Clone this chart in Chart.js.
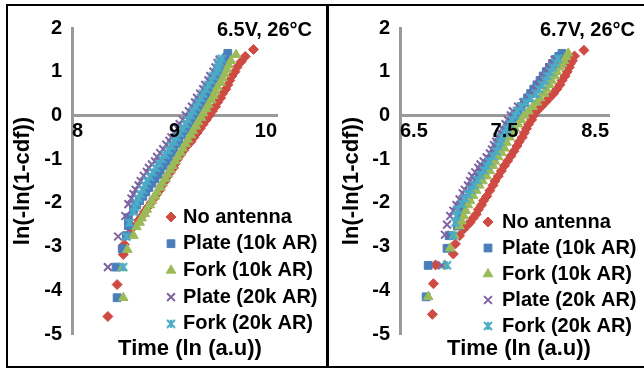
<!DOCTYPE html>
<html>
<head>
<meta charset="utf-8">
<script src="https://cdn.jsdelivr.net/npm/chart.js"></script>
<style>
  html, body { margin: 0; padding: 0; background: #fff; }
  body { width: 644px; height: 368px; position: relative; overflow: hidden; }
  .panel { position: absolute; top: 4px; height: 360px; border-top: 2px solid #000; border-bottom: 2px solid #000; }
  #p1 { left: 6px; width: 318px; border-left: 2px solid #000; border-right: 3px solid #000; }
  #p2 { left: 329px; width: 315px; }
  canvas { display: block; }
</style>
</head>
<body>
<div class="panel" id="p1"><canvas id="chart-1" width="318" height="360"></canvas></div>
<div class="panel" id="p2"><canvas id="chart-2" width="315" height="360"></canvas></div>
<script>
const seriesNames = ['No antenna', 'Plate (10k AR)', 'Fork (10k AR)', 'Plate (20k AR)', 'Fork (20k AR)'];
const yTicks = { min: -5, max: 2, step: 1 };

// 6.5V, 26°C
const noAnt65Y = [-4.6, -3.87, -3.18, -2.95, -2.7, -2.55, -2.4, -2.3, -2.2, -2.1, -2.0, -1.9, -1.8, -1.7, -1.6, -1.5, -1.4, -1.3, -1.2, -1.1, -1.0, -0.9, -0.8, -0.7, -0.6, -0.5, -0.4, -0.3, -0.2, -0.1, 0.0, 0.1, 0.2, 0.3, 0.4, 0.5, 0.6, 0.7, 0.8, 0.9, 1.0, 1.1, 1.23, 1.35, 1.51];
const noAnt65X = [8.35, 8.44, 8.50, 8.51, 8.56, 8.60, 8.65, 8.68, 8.71, 8.74, 8.77, 8.80, 8.83, 8.86, 8.88, 8.91, 8.93, 8.96, 8.99, 9.01, 9.03, 9.06, 9.09, 9.12, 9.16, 9.19, 9.22, 9.25, 9.28, 9.31, 9.34, 9.37, 9.40, 9.42, 9.45, 9.47, 9.50, 9.52, 9.54, 9.56, 9.59, 9.61, 9.65, 9.69, 9.77];
const plate10k65Y = [-4.17, -3.47, -3.05, -2.75, -2.52, -2.34, -2.15, -2.05, -1.95, -1.85, -1.75, -1.65, -1.55, -1.45, -1.35, -1.25, -1.15, -1.05, -0.95, -0.85, -0.75, -0.65, -0.55, -0.45, -0.35, -0.25, -0.15, -0.05, 0.05, 0.15, 0.25, 0.35, 0.45, 0.55, 0.65, 0.75, 0.85, 0.95, 1.05, 1.15, 1.25, 1.33, 1.42];
const plate10k65X = [8.44, 8.43, 8.49, 8.53, 8.55, 8.55, 8.60, 8.63, 8.66, 8.69, 8.72, 8.75, 8.78, 8.81, 8.84, 8.86, 8.89, 8.92, 8.94, 8.97, 8.99, 9.02, 9.04, 9.07, 9.10, 9.13, 9.16, 9.19, 9.22, 9.24, 9.27, 9.30, 9.32, 9.35, 9.37, 9.40, 9.42, 9.44, 9.46, 9.48, 9.50, 9.51, 9.52];
const fork10k65Y = [-4.17, -3.49, -3.07, -2.75, -2.55, -2.45, -2.35, -2.25, -2.15, -2.05, -1.95, -1.85, -1.75, -1.65, -1.55, -1.45, -1.35, -1.25, -1.15, -1.05, -0.95, -0.85, -0.75, -0.65, -0.55, -0.45, -0.35, -0.25, -0.15, -0.05, 0.05, 0.15, 0.25, 0.35, 0.45, 0.55, 0.65, 0.75, 0.85, 0.95, 1.05, 1.15, 1.25, 1.39];
const fork10k65X = [8.50, 8.49, 8.54, 8.60, 8.63, 8.66, 8.68, 8.71, 8.73, 8.76, 8.78, 8.81, 8.83, 8.86, 8.88, 8.91, 8.93, 8.96, 8.98, 9.01, 9.03, 9.06, 9.08, 9.11, 9.13, 9.16, 9.18, 9.21, 9.23, 9.26, 9.28, 9.31, 9.33, 9.36, 9.38, 9.40, 9.42, 9.45, 9.47, 9.49, 9.51, 9.53, 9.55, 9.60];
const plate20k65Y = [-3.47, -2.77, -2.30, -2.03, -1.9, -1.80, -1.7, -1.60, -1.5, -1.38, -1.29, -1.20, -1.12, -1.05, -0.95, -0.86, -0.77, -0.67, -0.58, -0.5, -0.4, -0.3, -0.2, -0.1, 0.0, 0.1, 0.2, 0.3, 0.4, 0.5, 0.6, 0.7, 0.8, 0.9, 1.0, 1.1, 1.2, 1.28];
const plate20k65X = [8.35, 8.45, 8.52, 8.55, 8.58, 8.60, 8.62, 8.65, 8.67, 8.70, 8.73, 8.75, 8.78, 8.81, 8.83, 8.86, 8.89, 8.92, 8.95, 8.97, 9.00, 9.03, 9.05, 9.08, 9.11, 9.14, 9.17, 9.20, 9.22, 9.25, 9.28, 9.30, 9.33, 9.35, 9.38, 9.40, 9.42, 9.44];
const fork20k65Y = [-3.47, -2.77, -2.45, -2.2, -2.1, -2.0, -1.9, -1.8, -1.7, -1.6, -1.5, -1.4, -1.3, -1.2, -1.1, -1.0, -0.9, -0.8, -0.7, -0.6, -0.5, -0.4, -0.3, -0.2, -0.1, 0.0, 0.1, 0.2, 0.3, 0.4, 0.5, 0.6, 0.7, 0.8, 0.9, 1.0, 1.08, 1.15, 1.22, 1.3];
const fork20k65X = [8.50, 8.53, 8.56, 8.60, 8.61, 8.63, 8.65, 8.67, 8.69, 8.71, 8.73, 8.76, 8.79, 8.82, 8.85, 8.88, 8.91, 8.94, 8.97, 9.00, 9.02, 9.05, 9.08, 9.11, 9.13, 9.16, 9.18, 9.21, 9.23, 9.26, 9.28, 9.31, 9.33, 9.36, 9.38, 9.41, 9.42, 9.43, 9.44, 9.46];

// 6.7V, 26°C
const noAnt67Y = [-4.55, -3.85, -3.42, -3.17, -2.94, -2.75, -2.6, -2.52, -2.45, -2.35, -2.26, -2.15, -2.05, -1.95, -1.85, -1.72, -1.6, -1.5, -1.39, -1.27, -1.15, -1.04, -0.93, -0.82, -0.7, -0.6, -0.5, -0.4, -0.3, -0.2, -0.1, 0.0, 0.1, 0.2, 0.3, 0.4, 0.5, 0.6, 0.7, 0.8, 0.9, 1.0, 1.1, 1.18, 1.25, 1.36, 1.49];
const noAnt67X = [6.81, 6.82, 6.84, 7.01, 7.03, 7.07, 7.11, 7.14, 7.17, 7.20, 7.23, 7.25, 7.28, 7.30, 7.33, 7.36, 7.39, 7.41, 7.44, 7.47, 7.50, 7.53, 7.56, 7.59, 7.62, 7.64, 7.67, 7.69, 7.71, 7.73, 7.76, 7.78, 7.81, 7.85, 7.89, 7.93, 7.97, 8.00, 8.03, 8.05, 8.08, 8.10, 8.12, 8.13, 8.15, 8.17, 8.26];
const plate10k67Y = [-4.15, -3.43, -3.04, -2.75, -2.53, -2.3, -2.2, -2.1, -2.0, -1.9, -1.8, -1.7, -1.6, -1.5, -1.4, -1.3, -1.2, -1.1, -1.0, -0.9, -0.8, -0.7, -0.6, -0.5, -0.4, -0.3, -0.2, -0.1, 0.0, 0.1, 0.2, 0.3, 0.4, 0.5, 0.6, 0.7, 0.8, 0.9, 1.0, 1.1, 1.19, 1.28, 1.35, 1.42];
const plate10k67X = [6.75, 6.77, 6.95, 6.97, 7.05, 7.07, 7.08, 7.10, 7.12, 7.15, 7.17, 7.19, 7.21, 7.24, 7.26, 7.29, 7.31, 7.34, 7.36, 7.39, 7.41, 7.44, 7.46, 7.48, 7.50, 7.53, 7.55, 7.58, 7.60, 7.63, 7.66, 7.69, 7.72, 7.75, 7.78, 7.81, 7.84, 7.87, 7.90, 7.93, 7.96, 7.99, 8.02, 8.05];
const fork10k67Y = [-4.15, -3.43, -3.04, -2.75, -2.53, -2.42, -2.3, -2.18, -2.05, -1.95, -1.84, -1.72, -1.6, -1.5, -1.39, -1.27, -1.15, -1.05, -0.95, -0.85, -0.75, -0.62, -0.5, -0.4, -0.3, -0.2, -0.1, 0.0, 0.1, 0.2, 0.3, 0.4, 0.5, 0.6, 0.7, 0.8, 0.9, 1.0, 1.1, 1.18, 1.25, 1.34, 1.42];
const fork10k67X = [6.77, 6.93, 6.98, 7.02, 7.07, 7.09, 7.11, 7.13, 7.15, 7.17, 7.20, 7.23, 7.26, 7.29, 7.33, 7.36, 7.39, 7.41, 7.44, 7.47, 7.50, 7.52, 7.55, 7.57, 7.60, 7.63, 7.66, 7.69, 7.73, 7.77, 7.81, 7.84, 7.88, 7.90, 7.93, 7.95, 7.98, 8.00, 8.03, 8.05, 8.07, 8.09, 8.11];
const plate20k67Y = [-3.43, -2.73, -2.5, -2.3, -2.18, -2.05, -1.92, -1.78, -1.7, -1.6, -1.5, -1.39, -1.3, -1.2, -1.12, -1.05, -0.96, -0.87, -0.78, -0.68, -0.6, -0.5, -0.4, -0.3, -0.2, -0.1, 0.0, 0.1, 0.2, 0.3, 0.4, 0.5, 0.6, 0.7, 0.8, 0.9, 1.0, 1.1, 1.18, 1.27];
const plate20k67X = [6.90, 6.93, 6.95, 6.98, 7.01, 7.04, 7.07, 7.10, 7.12, 7.15, 7.17, 7.19, 7.22, 7.25, 7.27, 7.30, 7.33, 7.36, 7.38, 7.40, 7.42, 7.43, 7.46, 7.48, 7.51, 7.53, 7.56, 7.58, 7.63, 7.68, 7.73, 7.78, 7.80, 7.83, 7.86, 7.88, 7.91, 7.93, 7.96, 7.98];
const fork20k67Y = [-3.43, -2.75, -2.45, -2.3, -2.15, -2.02, -1.9, -1.8, -1.7, -1.6, -1.48, -1.37, -1.25, -1.15, -1.05, -0.93, -0.82, -0.7, -0.6, -0.5, -0.4, -0.3, -0.2, -0.1, 0.0, 0.1, 0.2, 0.3, 0.4, 0.5, 0.6, 0.7, 0.8, 0.9, 1.0, 1.1, 1.2, 1.3];
const fork20k67X = [6.95, 7.01, 7.03, 7.04, 7.05, 7.09, 7.12, 7.15, 7.18, 7.21, 7.24, 7.27, 7.30, 7.33, 7.35, 7.39, 7.42, 7.44, 7.46, 7.47, 7.50, 7.52, 7.55, 7.57, 7.60, 7.62, 7.66, 7.70, 7.75, 7.80, 7.83, 7.86, 7.89, 7.91, 7.94, 7.96, 7.99, 8.01];

const FONT = '"Liberation Sans", Arial, sans-serif';
const tickFont = { family: FONT, size: 20, weight: 'bold' };

// Excel "star" marker: an x with a vertical bar
function starMarker(color) {
  const c = document.createElement('canvas');
  c.width = 10; c.height = 10;
  const g = c.getContext('2d');
  g.strokeStyle = color;
  g.lineWidth = 2.2;
  g.beginPath();
  g.moveTo(1, 1); g.lineTo(9, 9);
  g.moveTo(9, 1); g.lineTo(1, 9);
  g.moveTo(5, 1); g.lineTo(5, 9);
  g.stroke();
  return c;
}

const markerStyles = [
  { color: '#CF4A43', pointStyle: 'rectRot', radius: 5, borderWidth: 1 },
  { color: '#4A7EBB', pointStyle: 'rect', radius: 5.5, borderWidth: 1 },
  { color: '#9BBB59', pointStyle: 'triangle', radius: 5.5, borderWidth: 1 },
  { color: '#7F62A1', pointStyle: 'crossRot', radius: 5.5, borderWidth: 2 },
  { color: '#4BACC6', pointStyle: starMarker('#4BACC6'), radius: 5, borderWidth: 1 }
];

function toPoints(xs, ys) {
  return xs.map((x, i) => ({ x: x, y: ys[i] }));
}

function makeDatasets(series) {
  return series.map((s, i) => ({
    label: seriesNames[i],
    data: toPoints(s[0], s[1]),
    pointStyle: markerStyles[i].pointStyle,
    pointRadius: markerStyles[i].radius,
    pointBorderWidth: markerStyles[i].borderWidth,
    borderWidth: markerStyles[i].borderWidth,
    backgroundColor: markerStyles[i].color,
    borderColor: markerStyles[i].color,
    showLine: false,
    order: 4 - i
  }));
}

// axis title, condition note and legend, placed from the chart area
const panelText = {
  id: 'panelText',
  afterDraw(chart, args, opts) {
    const { ctx, chartArea } = chart;
    ctx.save();
    ctx.fillStyle = '#000';
    ctx.textBaseline = 'middle';
    ctx.font = 'bold 22px ' + FONT;
    ctx.textAlign = 'center';
    ctx.fillText('Time (ln (a.u))', chartArea.left + opts.titleDx, chartArea.bottom + opts.titleDy);
    ctx.font = 'bold 20px ' + FONT;
    ctx.textAlign = 'right';
    ctx.fillText(opts.note, chartArea.right + opts.noteDx, chartArea.top + opts.noteDy);
    chart.data.datasets.forEach((ds, i) => {
      const x = chartArea.left + opts.legendLeft;
      const y = chartArea.top + opts.legendTop + i * opts.legendStep;
      ctx.fillStyle = ds.backgroundColor;
      ctx.strokeStyle = ds.borderColor;
      ctx.lineWidth = ds.pointBorderWidth;
      Chart.helpers.drawPoint(ctx, {
        pointStyle: ds.pointStyle, radius: ds.pointRadius,
        borderWidth: ds.pointBorderWidth, rotation: 0
      }, x, y);
      ctx.fillStyle = '#000';
      ctx.textAlign = 'left';
      ctx.fillText(ds.label, x + opts.textGap, y);
    });
    ctx.restore();
  }
};

function makePanel(id, series, xMin, xMax, p) {
  return new Chart(document.getElementById(id), {
    type: 'scatter',
    data: { datasets: makeDatasets(series) },
    options: {
      responsive: false,
      animation: false,
      events: [],
      layout: { padding: { left: 0, top: 17, right: p.padRight, bottom: 32 } },
      scales: {
        x: {
          type: 'linear',
          position: { y: 0 },
          min: xMin, max: xMax,
          afterFit: (scale) => { scale.height = 0; },
          grid: { display: false, drawTicks: false },
          // axis line under the markers, tick labels above them
          border: { display: true, color: '#9a9a9a', width: 3, z: 0 },
          ticks: { z: 1, stepSize: 1, align: 'inner', padding: 4, color: '#000', font: tickFont }
        },
        y: {
          type: 'linear',
          min: yTicks.min, max: yTicks.max,
          afterFit: (scale) => { scale.width = p.yWidth; },
          grid: { display: false, drawTicks: false },
          border: { display: true, color: '#9a9a9a', width: 3 },
          ticks: { stepSize: yTicks.step, padding: 10, color: '#000', font: tickFont },
          title: {
            display: true, text: 'ln(-ln(1-cdf))', color: '#000',
            padding: { top: p.yTitlePad, bottom: 0 },
            font: { family: FONT, size: 22, weight: 'bold' }
          }
        }
      },
      plugins: {
        legend: { display: false },
        tooltip: { enabled: false },
        panelText: p.text
      }
    },
    plugins: [panelText]
  });
}

const chart1 = makePanel('chart-1', [
  [noAnt65X, noAnt65Y], [plate10k65X, plate10k65Y], [fork10k65X, fork10k65Y],
  [plate20k65X, plate20k65Y], [fork20k65X, fork20k65Y]
], 8, 10, {
  padRight: 49, yWidth: 64, yTitlePad: 2,
  text: { note: '6.5V, 26°C', titleDx: 118, titleDy: 15, noteDx: 35, noteDy: 2,
          legendLeft: 99, legendTop: 189, legendStep: 26.7, textGap: 12 }
});

const chart2 = makePanel('chart-2', [
  [noAnt67X, noAnt67Y], [plate10k67X, plate10k67Y], [fork10k67X, fork10k67Y],
  [plate20k67X, plate20k67Y], [fork20k67X, fork20k67Y]
], 6.5, 8.5, {
  padRight: 35, yWidth: 71, yTitlePad: 10,
  text: { note: '6.7V, 26°C', titleDx: 119, titleDy: 15, noteDx: 26, noteDy: 2,
          legendLeft: 88, legendTop: 194, legendStep: 26, textGap: 14 }
});
</script>
</body>
</html>
